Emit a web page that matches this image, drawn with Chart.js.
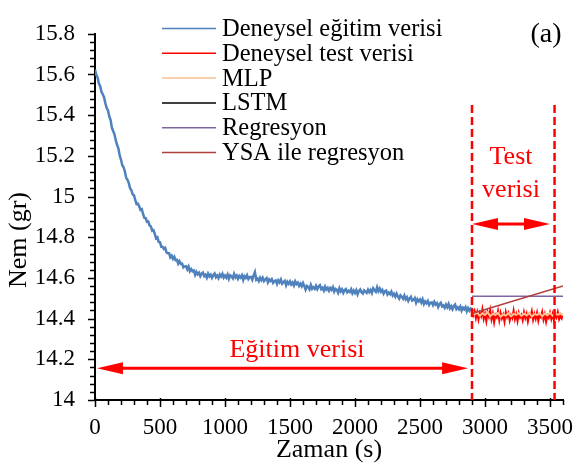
<!DOCTYPE html>
<html>
<head>
<meta charset="utf-8">
<script src="https://cdn.jsdelivr.net/npm/chart.js@4.4.1/dist/chart.umd.min.js"></script>
<style>
  body { margin: 0; background: #fff; }
  #nemChart { display: block; }
</style>
</head>
<body>
<canvas id="nemChart" width="576" height="466"></canvas>
<script>
// Nem verisi (gr) - egitim: 0-2900 s, 10 s aralik
const egitimAdim = 10;
const egitimVerisi = [
  15.624, 15.597, 15.586, 15.555, 15.542, 15.514, 15.503, 15.487, 15.458, 15.435,
  15.423, 15.394, 15.376, 15.338, 15.322, 15.305, 15.276, 15.253, 15.237, 15.202,
  15.181, 15.154, 15.144, 15.123, 15.092, 15.082, 15.066, 15.041, 15.031, 15.010,
  15.006, 14.982, 14.963, 14.965, 14.952, 14.934, 14.938, 14.913, 14.895, 14.894,
  14.876, 14.877, 14.858, 14.853, 14.832, 14.835, 14.816, 14.794, 14.799, 14.777,
  14.775, 14.753, 14.753, 14.743, 14.748, 14.725, 14.721, 14.721, 14.701, 14.709,
  14.694, 14.704, 14.687, 14.689, 14.670, 14.682, 14.669, 14.670, 14.652, 14.657,
  14.658, 14.642, 14.656, 14.633, 14.643, 14.633, 14.637, 14.615, 14.630, 14.618,
  14.626, 14.609, 14.621, 14.626, 14.609, 14.616, 14.601, 14.621, 14.608, 14.616,
  14.601, 14.614, 14.622, 14.604, 14.612, 14.599, 14.617, 14.607, 14.620, 14.601,
  14.611, 14.601, 14.617, 14.596, 14.613, 14.608, 14.598, 14.620, 14.603, 14.612,
  14.596, 14.610, 14.602, 14.613, 14.590, 14.609, 14.600, 14.613, 14.595, 14.604,
  14.605, 14.591, 14.613, 14.629, 14.591, 14.597, 14.584, 14.601, 14.589, 14.601,
  14.584, 14.593, 14.599, 14.578, 14.593, 14.585, 14.594, 14.576, 14.585, 14.588,
  14.571, 14.588, 14.578, 14.592, 14.572, 14.580, 14.586, 14.564, 14.581, 14.571,
  14.583, 14.568, 14.577, 14.563, 14.583, 14.570, 14.577, 14.561, 14.572, 14.559,
  14.575, 14.560, 14.543, 14.561, 14.555, 14.544, 14.566, 14.547, 14.554, 14.546,
  14.561, 14.545, 14.558, 14.564, 14.545, 14.552, 14.538, 14.557, 14.543, 14.551,
  14.537, 14.551, 14.542, 14.555, 14.533, 14.546, 14.542, 14.527, 14.549, 14.534,
  14.544, 14.527, 14.540, 14.545, 14.529, 14.537, 14.531, 14.544, 14.525, 14.538,
  14.526, 14.540, 14.520, 14.536, 14.543, 14.529, 14.523, 14.539, 14.533, 14.527,
  14.542, 14.530, 14.541, 14.526, 14.549, 14.541, 14.532, 14.554, 14.535, 14.548,
  14.532, 14.541, 14.523, 14.535, 14.538, 14.519, 14.528, 14.520, 14.532, 14.513,
  14.522, 14.508, 14.523, 14.509, 14.498, 14.514, 14.507, 14.497, 14.513, 14.495,
  14.505, 14.487, 14.499, 14.507, 14.488, 14.492, 14.501, 14.478, 14.495, 14.485,
  14.494, 14.479, 14.495, 14.472, 14.485, 14.476, 14.487, 14.468, 14.478, 14.480,
  14.466, 14.482, 14.469, 14.476, 14.457, 14.472, 14.478, 14.460, 14.465, 14.453,
  14.469, 14.456, 14.472, 14.450, 14.461, 14.446, 14.462, 14.469, 14.447, 14.455,
  14.446, 14.459, 14.440, 14.454, 14.446, 14.457, 14.436, 14.452, 14.439, 14.449,
  14.441,
];

// test: 2900-3600 s, 10 s aralik
const testBaslangic = 2900;
const testAdim = 10;
const testVerisi = [
  14.452, 14.418, 14.437, 14.402, 14.431, 14.395, 14.428, 14.411, 14.446, 14.399,
  14.423, 14.387, 14.431, 14.409, 14.442, 14.396, 14.425, 14.381, 14.418, 14.406,
  14.437, 14.392, 14.428, 14.401, 14.419, 14.385, 14.433, 14.408, 14.426, 14.391,
  14.416, 14.402, 14.439, 14.397, 14.421, 14.388, 14.427, 14.405, 14.418, 14.392,
  14.431, 14.403, 14.424, 14.386, 14.417, 14.409, 14.436, 14.394, 14.422, 14.399,
  14.428, 14.389, 14.419, 14.407, 14.433, 14.395, 14.421, 14.384, 14.415, 14.403,
  14.429, 14.398, 14.423, 14.391, 14.418, 14.405, 14.432, 14.396, 14.412, 14.401,
  14.422,
];

// model tahminleri (20 s aralik)
const tahminAdim = 20;
const mlpTahmin = [
  14.438, 14.421, 14.429, 14.414, 14.426, 14.418, 14.431, 14.412, 14.424, 14.417,
  14.428, 14.409, 14.421, 14.415, 14.426, 14.411, 14.423, 14.418, 14.427, 14.413,
  14.424, 14.416, 14.429, 14.41, 14.422, 14.418, 14.426, 14.412, 14.425, 14.417,
  14.428, 14.414, 14.423, 14.419, 14.427, 14.415,
];
const lstmTahmin = [
  14.438, 14.421, 14.429, 14.414, 14.426, 14.418, 14.431, 14.412, 14.424, 14.417,
  14.428, 14.409, 14.421, 14.415, 14.426, 14.411, 14.423, 14.418, 14.427, 14.413,
  14.424, 14.416, 14.429, 14.41, 14.422, 14.418, 14.426, 14.412, 14.425, 14.417,
  14.428, 14.414, 14.423, 14.419, 14.427, 14.415,
];

// regresyon dogrulari: [baslangic, bitis]
const regresyonZaman = [2900, 3600];
const regresyonTahmin = [14.51, 14.51];
const ysaRegresyonTahmin = [14.425, 14.56];

// eksen etiketleri
const xEtiketleri = [0, 500, 1000, 1500, 2000, 2500, 3000, 3500];
const yEtiketleri = [14, 14.2, 14.4, 14.6, 14.8, 15, 15.2, 15.4, 15.6, 15.8];
const xEksen = { min: 0, max: 3600, araAdim: 100 };
const yEksen = { min: 14, max: 15.8, araAdim: 0.04 };

// bolge sinirlari ve oklar
const testSinirlari = [2900, 3535];
const sinirUst = 15.45;
const egitimOk = { x1: 15, x2: 2870, y: 14.156 };
const testOk = { x1: 2900, x2: 3500, y: 14.865 };

const SERIF = "'Liberation Serif', 'Times New Roman', serif";

function noktalar(values, start, step) {
  return values.map((v, i) => ({ x: start + i * step, y: v }));
}

// eksen tikleri (ana ve ara)
const tikPlugin = {
  id: "tikler",
  afterDraw(chart) {
    const { ctx, chartArea, scales } = chart;
    ctx.save();
    ctx.strokeStyle = "#000";
    ctx.lineWidth = 1.5;
    ctx.beginPath();
    const nx = Math.round((xEksen.max - xEksen.min) / xEksen.araAdim);
    for (let i = 0; i <= nx; i++) {
      const v = xEksen.min + i * xEksen.araAdim;
      const px = Math.round(scales.x.getPixelForValue(v)) + 0.5;
      const ana = xEtiketleri.includes(v);
      ctx.moveTo(px, chartArea.bottom - (ana ? 2 : 0));
      ctx.lineTo(px, chartArea.bottom + (ana ? 7 : 5));
    }
    const ny = Math.round((yEksen.max - yEksen.min) / yEksen.araAdim);
    for (let i = 0; i <= ny; i++) {
      const py = Math.round(scales.y.getPixelForValue(yEksen.min + i * yEksen.araAdim)) + 0.5;
      const ana = i % 5 === 0;
      ctx.moveTo(chartArea.left - (ana ? 7 : 5), py);
      ctx.lineTo(chartArea.left, py);
    }
    ctx.stroke();

    // y ekseni basligi
    ctx.fillStyle = "#000";
    ctx.font = "26px " + SERIF;
    ctx.textAlign = "center";
    ctx.textBaseline = "middle";
    ctx.translate(19, 240);
    ctx.rotate(-Math.PI / 2);
    ctx.fillText("Nem (gr)", 0, 0);
    ctx.restore();
  },
};

function ok(ctx, x1, x2, y) {
  const boy = 26;
  const yari = 6;
  ctx.beginPath();
  ctx.moveTo(x1 + boy - 2, y);
  ctx.lineTo(x2 - boy + 2, y);
  ctx.stroke();
  ctx.beginPath();
  ctx.moveTo(x1, y);
  ctx.lineTo(x1 + boy, y - yari);
  ctx.lineTo(x1 + boy, y + yari);
  ctx.closePath();
  ctx.moveTo(x2, y);
  ctx.lineTo(x2 - boy, y - yari);
  ctx.lineTo(x2 - boy, y + yari);
  ctx.closePath();
  ctx.fill();
}

// test/egitim bolgeleri, oklar ve yazilar
const bolgePlugin = {
  id: "bolgeler",
  afterDatasetsDraw(chart) {
    const { ctx, scales } = chart;
    const x = scales.x;
    const y = scales.y;
    ctx.save();
    ctx.strokeStyle = "#ff0000";
    ctx.fillStyle = "#ff0000";
    ctx.lineWidth = 2.5;
    ctx.setLineDash([8, 4]);
    testSinirlari.forEach((t) => {
      ctx.beginPath();
      ctx.moveTo(x.getPixelForValue(t), y.getPixelForValue(sinirUst));
      ctx.lineTo(x.getPixelForValue(t), y.getPixelForValue(yEksen.min));
      ctx.stroke();
    });
    ctx.setLineDash([]);
    ctx.lineWidth = 3;
    ok(ctx, x.getPixelForValue(egitimOk.x1), x.getPixelForValue(egitimOk.x2), y.getPixelForValue(egitimOk.y));
    ok(ctx, x.getPixelForValue(testOk.x1), x.getPixelForValue(testOk.x2), y.getPixelForValue(testOk.y));

    ctx.font = "26px " + SERIF;
    ctx.textAlign = "center";
    ctx.textBaseline = "middle";
    ctx.fillText("Eğitim verisi", 297, 350);
    ctx.fillText("Test", 511, 157);
    ctx.fillText("verisi", 511, 190);

    ctx.fillStyle = "#000";
    ctx.font = "28px " + SERIF;
    ctx.fillText("(a)", 546, 35);
    ctx.restore();
  },
};

// legend, veri setlerinin etiket ve renklerinden
const legendPlugin = {
  id: "legendKutusu",
  afterDraw(chart) {
    const { ctx } = chart;
    ctx.save();
    ctx.font = "24.5px " + SERIF;
    ctx.textAlign = "left";
    ctx.textBaseline = "middle";
    chart.data.datasets.forEach((ds, i) => {
      const yy = 28.5 + i * 24.8;
      ctx.strokeStyle = ds.borderColor;
      ctx.lineWidth = 1.5;
      ctx.beginPath();
      ctx.moveTo(162, yy);
      ctx.lineTo(216, yy);
      ctx.stroke();
      ctx.fillStyle = "#000";
      ctx.fillText(ds.label, 222, yy + 1);
    });
    ctx.restore();
  },
};

const nemCtx = document.getElementById("nemChart");

new Chart(nemCtx, {
  type: "line",

  data: {
    datasets: [
      {
        label: "Deneysel eğitim verisi",
        data: noktalar(egitimVerisi, 0, egitimAdim),
        borderColor: "#4f81bd",
        borderWidth: 2.5,
        order: 6,
      },
      {
        label: "Deneysel test verisi",
        data: noktalar(testVerisi, testBaslangic, testAdim),
        borderColor: "#ff0000",
        borderWidth: 2,
        order: 3,
      },
      {
        label: "MLP",
        data: noktalar(mlpTahmin, testBaslangic, tahminAdim),
        borderColor: "#fac090",
        borderWidth: 2,
        order: 2,
      },
      {
        label: "LSTM",
        data: noktalar(lstmTahmin, testBaslangic, tahminAdim),
        borderColor: "#000000",
        borderWidth: 1,
        order: 5,
      },
      {
        label: "Regresyon",
        data: regresyonZaman.map((t, i) => ({ x: t, y: regresyonTahmin[i] })),
        borderColor: "#8064a2",
        borderWidth: 1.5,
        order: 1,
      },
      {
        label: "YSA ile regresyon",
        data: regresyonZaman.map((t, i) => ({ x: t, y: ysaRegresyonTahmin[i] })),
        borderColor: "#b0403c",
        borderWidth: 1.5,
        order: 0,
      },
    ],
  },

  options: {
    responsive: false,
    animation: false,
    events: [],

    elements: {
      point: { radius: 0 },
      line: { tension: 0 },
    },

    layout: {
      padding: { top: 14, right: 13, left: 0, bottom: 0 },
    },

    plugins: {
      legend: { display: false },
      tooltip: { enabled: false },
    },

    scales: {
      x: {
        type: "linear",
        min: xEksen.min,
        max: xEksen.max,
        afterBuildTicks: (scale) => {
          scale.ticks = xEtiketleri.map((v) => ({ value: v }));
        },
        afterFit: (scale) => {
          scale.height = 66;
          scale.paddingLeft = 0;
          scale.paddingRight = 0;
        },
        ticks: {
          autoSkip: false,
          maxRotation: 0,
          color: "#000",
          padding: 14,
          font: { family: SERIF, size: 23 },
          callback: (value) => String(value),
        },
        grid: { display: true, drawOnChartArea: false, drawTicks: false },
        border: { display: true, color: "#000", width: 2 },
        title: {
          display: true,
          text: "Zaman (s)",
          color: "#000",
          font: { family: SERIF, size: 26 },
          padding: { top: 0, bottom: 0 },
        },
      },

      y: {
        min: yEksen.min,
        max: yEksen.max,
        afterBuildTicks: (scale) => {
          scale.ticks = yEtiketleri.map((v) => ({ value: v }));
        },
        afterFit: (scale) => {
          scale.width = 95;
        },
        ticks: {
          autoSkip: false,
          color: "#000",
          padding: 20,
          font: { family: SERIF, size: 23 },
          callback: (value) => String(value),
        },
        grid: { display: true, drawOnChartArea: false, drawTicks: false },
        border: { display: true, color: "#000", width: 2 },
      },
    },
  },

  plugins: [tikPlugin, bolgePlugin, legendPlugin],
});
</script>
</body>
</html>
